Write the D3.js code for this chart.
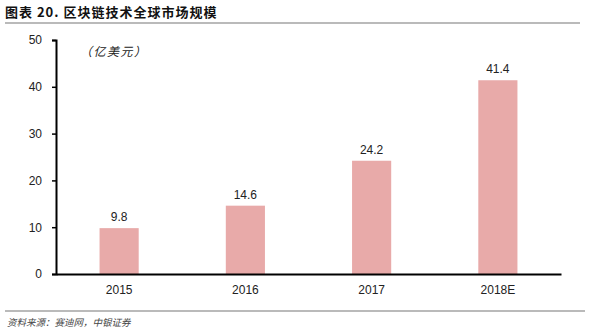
<!DOCTYPE html>
<html>
<head>
<meta charset="utf-8">
<script src="https://cdn.jsdelivr.net/npm/d3@7"></script>
<style>
  body { margin: 0; background: #fff; }
  svg { display: block; }
</style>
</head>
<body>
<div id="chart"></div>
<script>
var categories = ['2015', '2016', '2017', '2018E'];
var values = [9.8, 14.6, 24.2, 41.4];
var yTicks = [0, 10, 20, 30, 40, 50];

var chart = {

  config: {
    width: 600,
    height: 335,
    left: 56,
    right: 561,
    top: 40,
    bottom: 274,
    barColor: '#e8aaa9',
    font: '"Liberation Sans", Arial, sans-serif',
    cjk: '"Noto Sans CJK SC", sans-serif'
  },

  display: function() {
    this.createSvg();
    this.createScales();
    this.createBars();
    this.createAxes();
    this.createText();
  },

  createSvg: function() {
    this.svg = d3.select('#chart').append('svg')
                 .attr('width', this.config.width)
                 .attr('height', this.config.height);
  },

  createScales: function() {
    this.x = d3.scaleBand()
               .domain(categories)
               .range([this.config.left, this.config.right])
               .paddingInner(0.69)
               .paddingOuter(0.345);
    this.y = d3.scaleLinear()
               .domain([0, 50])
               .range([this.config.bottom, this.config.top]);
  },

  createBars: function() {
    var x = this.x, y = this.y;
    var g = this.svg.append('g');

    g.selectAll('rect')
     .data(values)
     .enter()
     .append('rect')
     .attr('x', function(d, i) { return x(categories[i]); })
     .attr('y', function(d) { return y(d); })
     .attr('width', x.bandwidth())
     .attr('height', function(d) { return y(0) - y(d); })
     .attr('fill', this.config.barColor);

    g.selectAll('text')
     .data(values)
     .enter()
     .append('text')
     .attr('x', function(d, i) { return x(categories[i]) + x.bandwidth() / 2; })
     .attr('y', function(d) { return y(d) - 7; })
     .attr('text-anchor', 'middle')
     .attr('font-family', this.config.font)
     .attr('font-size', 12)
     .attr('fill', '#222')
     .text(function(d) { return d.toFixed(1); });
  },

  createAxes: function() {
    var yAxis = d3.axisLeft(this.y)
                  .tickValues(yTicks)
                  .tickSize(4)
                  .tickPadding(10);

    var gy = this.svg.append('g')
                 .attr('transform', 'translate(' + this.config.left + ',0)')
                 .call(yAxis);
    gy.select('.domain').attr('stroke', '#000').attr('stroke-width', 2);
    gy.selectAll('.tick line').attr('stroke', '#000').attr('stroke-width', 1.5);
    gy.selectAll('.tick text')
      .attr('font-family', this.config.font)
      .attr('font-size', 12)
      .attr('fill', '#222');

    var xAxis = d3.axisBottom(this.x).tickSize(0).tickPadding(11);
    var gx = this.svg.append('g')
                 .attr('transform', 'translate(0,' + this.config.bottom + ')')
                 .call(xAxis);
    gx.select('.domain').attr('stroke', '#000').attr('stroke-width', 2);
    gx.selectAll('.tick text')
      .attr('font-family', this.config.font)
      .attr('font-size', 12)
      .attr('fill', '#222');
  },

  createText: function() {
    var svg = this.svg;

    svg.append('text')
       .attr('x', 5)
       .attr('y', 17)
       .attr('font-family', this.config.cjk)
       .attr('font-weight', 'bold')
       .attr('font-size', 13)
       .attr('letter-spacing', 1)
       .attr('fill', '#111')
       .text('图表 20.  区块链技术全球市场规模');

    svg.append('line')
       .attr('x1', 5).attr('x2', 580)
       .attr('y1', 23).attr('y2', 23)
       .attr('stroke', '#777').attr('stroke-width', 1.2);

    svg.append('text')
       .attr('x', 80)
       .attr('y', 56)
       .attr('font-family', this.config.cjk)
       .attr('font-size', 12)
       .attr('letter-spacing', 1.5)
       .attr('font-style', 'italic')
       .attr('fill', '#222')
       .text('（亿美元）');

    svg.append('line')
       .attr('x1', 5).attr('x2', 585)
       .attr('y1', 311).attr('y2', 311)
       .attr('stroke', '#777').attr('stroke-width', 1.2);

    svg.append('text')
       .attr('x', 7)
       .attr('y', 326)
       .attr('font-family', this.config.cjk)
       .attr('font-size', 9.5)
       .attr('font-style', 'italic')
       .attr('fill', '#444')
       .text('资料来源：赛迪网，中银证券');
  }

};

chart.display();
</script>
</body>
</html>
